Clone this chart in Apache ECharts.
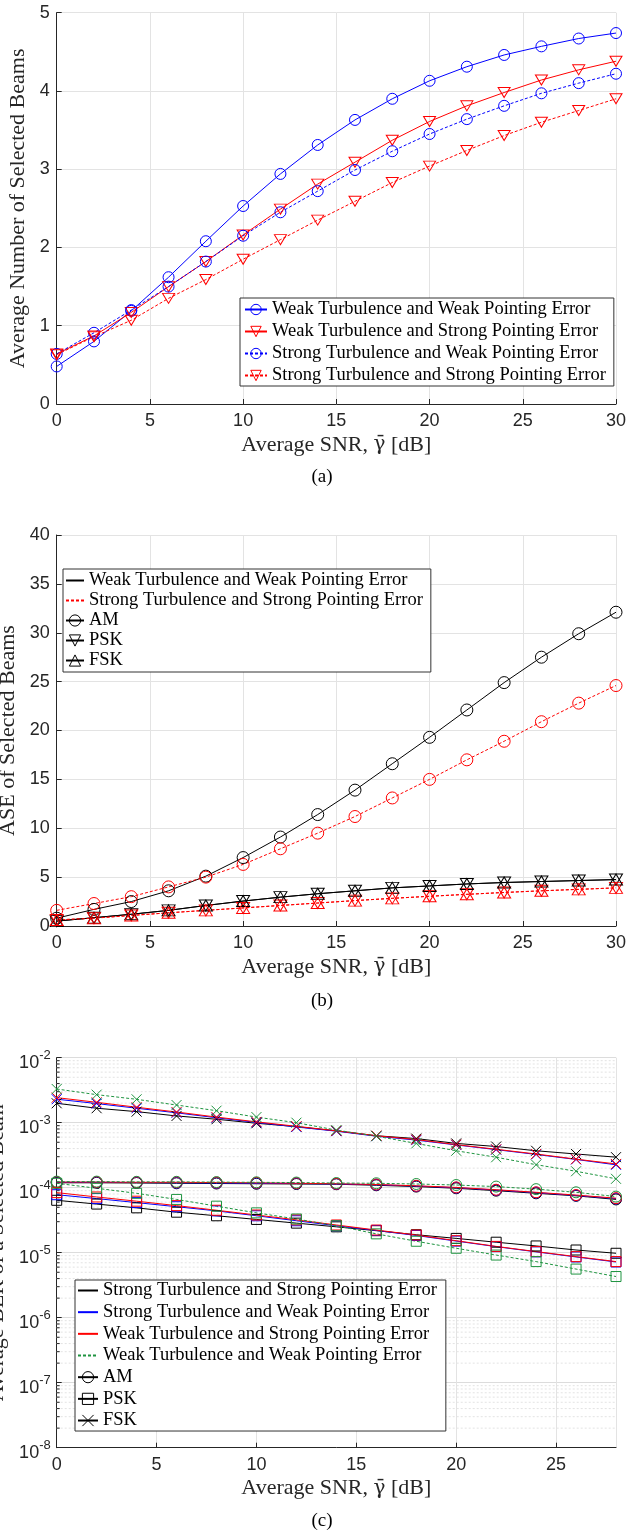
<!DOCTYPE html>
<html>
<head>
<meta charset="utf-8">
<script src="https://cdn.jsdelivr.net/npm/echarts/dist/echarts.min.js"></script>
<style>
  html, body { margin: 0; padding: 0; background: #ffffff; }
  #chart { width: 644px; height: 1531px; }
</style>
</head>
<body>
<div id="chart"></div>
<script>
// ---------- data ----------
// SNR sample points (dB)
const snr30 = [0, 2, 4, 6, 8, 10, 12, 14, 16, 18, 20, 22, 24, 26, 28, 30];
const snr28 = [0, 2, 4, 6, 8, 10, 12, 14, 16, 18, 20, 22, 24, 26, 28];

// (a) average number of selected beams
const beamsWeakWeak     = [0.48, 0.80, 1.19, 1.62, 2.08, 2.53, 2.94, 3.31, 3.63, 3.90, 4.13, 4.31, 4.46, 4.57, 4.67, 4.74];
const beamsWeakStrong   = [0.64, 0.87, 1.17, 1.50, 1.82, 2.16, 2.49, 2.81, 3.09, 3.37, 3.61, 3.81, 3.98, 4.14, 4.27, 4.38];
const beamsStrongWeak   = [0.64, 0.91, 1.20, 1.50, 1.82, 2.15, 2.45, 2.72, 2.99, 3.23, 3.45, 3.64, 3.81, 3.97, 4.10, 4.22];
const beamsStrongStrong = [0.63, 0.86, 1.07, 1.35, 1.59, 1.85, 2.10, 2.35, 2.59, 2.83, 3.04, 3.24, 3.43, 3.60, 3.75, 3.90];

// (b) ASE of selected beams
const aseAmWeakWeak      = [0.8, 1.7, 2.5, 3.6, 5.1, 7.0, 9.1, 11.4, 13.9, 16.6, 19.3, 22.1, 24.9, 27.5, 29.9, 32.1];
const aseAmStrongStrong  = [1.6, 2.3, 3.0, 4.0, 5.0, 6.3, 7.9, 9.5, 11.2, 13.1, 15.0, 17.0, 18.9, 20.9, 22.8, 24.6];
const asePskWeakWeak     = [0.50, 0.85, 1.20, 1.60, 2.10, 2.55, 2.95, 3.30, 3.60, 3.90, 4.10, 4.30, 4.45, 4.55, 4.65, 4.75];
const asePskStrongStrong = [0.62, 0.80, 1.08, 1.35, 1.60, 1.85, 2.10, 2.35, 2.60, 2.83, 3.04, 3.24, 3.43, 3.60, 3.75, 3.90];
const aseFskWeakWeak     = [0.50, 0.85, 1.20, 1.60, 2.10, 2.55, 2.95, 3.30, 3.60, 3.90, 4.10, 4.30, 4.45, 4.55, 4.65, 4.75];
const aseFskStrongStrong = [0.62, 0.80, 1.08, 1.35, 1.60, 1.85, 2.10, 2.35, 2.60, 2.83, 3.04, 3.24, 3.43, 3.60, 3.75, 3.90];

// (c) average BER of a selected beam
const berAmSS  = [1.19e-4, 1.19e-4, 1.18e-4, 1.17e-4, 1.16e-4, 1.15e-4, 1.14e-4, 1.13e-4, 1.09e-4, 1.04e-4, 9.8e-5, 9.0e-5, 8.2e-5, 7.5e-5, 6.6e-5];
const berAmSW  = [1.21e-4, 1.21e-4, 1.20e-4, 1.19e-4, 1.18e-4, 1.17e-4, 1.16e-4, 1.14e-4, 1.11e-4, 1.06e-4, 1.00e-4, 9.2e-5, 8.4e-5, 7.6e-5, 6.8e-5];
const berAmWS  = [1.22e-4, 1.22e-4, 1.21e-4, 1.21e-4, 1.20e-4, 1.19e-4, 1.17e-4, 1.15e-4, 1.12e-4, 1.07e-4, 1.01e-4, 9.3e-5, 8.5e-5, 7.7e-5, 6.9e-5];
const berAmWW  = [1.24e-4, 1.24e-4, 1.23e-4, 1.23e-4, 1.22e-4, 1.21e-4, 1.20e-4, 1.18e-4, 1.17e-4, 1.14e-4, 1.10e-4, 1.04e-4, 9.5e-5, 8.5e-5, 7.3e-5];

const berPskSS = [6.4e-5, 5.6e-5, 4.9e-5, 4.2e-5, 3.7e-5, 3.25e-5, 2.85e-5, 2.5e-5, 2.18e-5, 1.89e-5, 1.66e-5, 1.45e-5, 1.27e-5, 1.10e-5, 9.8e-6];
const berPskSW = [7.8e-5, 6.8e-5, 5.9e-5, 5.1e-5, 4.4e-5, 3.7e-5, 3.1e-5, 2.6e-5, 2.2e-5, 1.84e-5, 1.51e-5, 1.24e-5, 1.03e-5, 8.6e-6, 7.2e-6];
const berPskWS = [8.4e-5, 7.2e-5, 6.2e-5, 5.3e-5, 4.5e-5, 3.8e-5, 3.2e-5, 2.67e-5, 2.23e-5, 1.87e-5, 1.53e-5, 1.25e-5, 1.04e-5, 8.7e-6, 7.3e-6];
const berPskWW = [1.17e-4, 9.8e-5, 8.2e-5, 6.6e-5, 5.2e-5, 4.1e-5, 3.3e-5, 2.6e-5, 1.95e-5, 1.5e-5, 1.17e-5, 9.2e-6, 7.3e-6, 5.6e-6, 4.3e-6];

const berFskSS = [1.99e-3, 1.67e-3, 1.48e-3, 1.27e-3, 1.13e-3, 9.8e-4, 8.7e-4, 7.5e-4, 6.3e-4, 5.7e-4, 4.8e-4, 4.3e-4, 3.7e-4, 3.3e-4, 2.95e-4];
const berFskSW = [2.30e-3, 1.97e-3, 1.67e-3, 1.42e-3, 1.19e-3, 1.01e-3, 8.6e-4, 7.4e-4, 6.2e-4, 5.4e-4, 4.55e-4, 3.85e-4, 3.25e-4, 2.72e-4, 2.25e-4];
const berFskWS = [2.43e-3, 2.06e-3, 1.73e-3, 1.46e-3, 1.22e-3, 1.03e-3, 8.8e-4, 7.5e-4, 6.3e-4, 5.5e-4, 4.6e-4, 3.9e-4, 3.3e-4, 2.75e-4, 2.32e-4];
const berFskWW = [3.30e-3, 2.70e-3, 2.29e-3, 1.87e-3, 1.53e-3, 1.22e-3, 1.00e-3, 7.7e-4, 6.2e-4, 4.8e-4, 3.7e-4, 2.94e-4, 2.26e-4, 1.79e-4, 1.37e-4];

// legend / axis texts
const conditionNames = [
  'Weak Turbulence and Weak Pointing Error',
  'Weak Turbulence and Strong Pointing Error',
  'Strong Turbulence and Weak Pointing Error',
  'Strong Turbulence and Strong Pointing Error'
];
// x title: "Average SNR, γ̄ [dB]" (γ with bar set in a font that places the combining macron)
const xAxisTitle = '{t|Average SNR, }{g|\u03B3\u0304}{t| [dB]}';
const yTitleA = 'Average Number of Selected Beams';
const yTitleB = 'ASE of Selected Beams';
const yTitleC = 'Average BER of a Selected Beam';

// ---------- styling helpers ----------
const SERIF = "'Liberation Serif', 'DejaVu Serif', serif";
const SANS = "'Liberation Sans', Arial, sans-serif";
const AXIS_C = '#262626';
const GRID_C = '#e3e3e3';
const BLUE = '#0000ff', RED = '#ff0000', BLACK = '#000000', GREEN = '#1f9440';
const DOT = [3, 2];

const MARK = {
  circle: { symbol: 'circle', size: 11, rotate: 0 },
  circleB: { symbol: 'circle', size: 12, rotate: 0 },
  down: { symbol: 'triangle', size: [12, 10], rotate: 180 },
  downB: { symbol: 'triangle', size: [13, 11], rotate: 180 },
  up: { symbol: 'triangle', size: [13, 11], rotate: 0 },
  square: { symbol: 'rect', size: 10, rotate: 0 },
  cross: { symbol: 'path://M0,0L10,10M10,0L0,10', size: 10, rotate: 0 }
};

function line(name, idx, xs, ys, color, dash, mark) {
  return {
    type: 'line', name, xAxisIndex: idx, yAxisIndex: idx,
    data: xs.map((x, i) => [x, ys[i]]),
    symbol: mark ? mark.symbol : 'none',
    symbolSize: mark ? mark.size : 0,
    symbolRotate: mark ? mark.rotate : 0,
    showSymbol: !!mark, clip: false, z: 3,
    lineStyle: { color, width: 1, type: dash || 'solid' },
    itemStyle: { color: 'rgba(0,0,0,0)', borderColor: color, borderWidth: 1 },
    emphasis: { disabled: true }
  };
}
// legend-only entry (no data)
function key(name, idx, color, dash, mark) {
  const s = line(name, idx, [], [], color, dash, mark);
  if (!mark) {
    s.symbol = 'circle';
    s.itemStyle = { color: 'rgba(0,0,0,0)', borderColor: 'rgba(0,0,0,0)', borderWidth: 0 };
  }
  return s;
}

const xNameStyle = {
  fontFamily: SERIF, fontSize: 22, color: AXIS_C,
  rich: {
    t: { fontFamily: SERIF, fontSize: 22, color: AXIS_C },
    g: { fontFamily: "'DejaVu Serif', serif", fontSize: 20, color: AXIS_C }
  }
};

function xAxis(idx, max) {
  return {
    type: 'value', gridIndex: idx, min: 0, max, interval: 5,
    axisLine: { show: true, onZero: false, lineStyle: { color: AXIS_C, width: 1 } },
    axisTick: { show: true, inside: true, length: 5, lineStyle: { color: AXIS_C } },
    axisLabel: { show: true, fontFamily: SANS, fontSize: 18, color: AXIS_C, margin: 8,
                 showMaxLabel: max === 30, hideOverlap: false },
    splitLine: { show: true, lineStyle: { color: GRID_C, width: 1 } },
    name: xAxisTitle, nameLocation: 'middle', nameGap: 30,
    nameTextStyle: xNameStyle
  };
}
function yAxis(idx, max, interval, title, gap) {
  return {
    type: 'value', gridIndex: idx, min: 0, max, interval,
    axisLine: { show: true, onZero: false, lineStyle: { color: AXIS_C, width: 1 } },
    axisTick: { show: true, inside: true, length: 5, lineStyle: { color: AXIS_C } },
    axisLabel: { show: true, fontFamily: SANS, fontSize: 18, color: AXIS_C, margin: 7, hideOverlap: false },
    splitLine: { show: true, lineStyle: { color: GRID_C, width: 1 } },
    name: title, nameLocation: 'middle', nameGap: gap,
    nameTextStyle: { fontFamily: SERIF, fontSize: 22, color: AXIS_C }
  };
}

function legendBox(left, top, pad, itemWidth, itemHeight, gap, names) {
  return {
    show: true, orient: 'vertical', left, top, padding: pad,
    itemWidth, itemHeight, itemGap: gap,
    borderColor: '#333333', borderWidth: 1, backgroundColor: '#ffffff',
    itemStyle: { borderWidth: 1 },
    selectedMode: false,
    textStyle: { fontFamily: SERIF, fontSize: 18.5, color: '#000000' },
    formatter: n => n.split('|').pop(),
    data: names
  };
}

// minor gridlines of the logarithmic BER axis (2..9 x 10^k)
const logMinor = [];
for (let e = -8; e < -2; e++) for (let m = 2; m <= 9; m++) logMinor.push([0, m * Math.pow(10, e)]);

const series = [
  // (a)
  line(conditionNames[0], 0, snr30, beamsWeakWeak, BLUE, 'solid', MARK.circle),
  line(conditionNames[1], 0, snr30, beamsWeakStrong, RED, 'solid', MARK.down),
  line(conditionNames[2], 0, snr30, beamsStrongWeak, BLUE, DOT, MARK.circle),
  line(conditionNames[3], 0, snr30, beamsStrongStrong, RED, DOT, MARK.down),

  // (b)
  line('b-am-ww', 1, snr30, aseAmWeakWeak, BLACK, 'solid', MARK.circleB),
  line('b-am-ss', 1, snr30, aseAmStrongStrong, RED, DOT, MARK.circleB),
  line('b-psk-ww', 1, snr30, asePskWeakWeak, BLACK, 'solid', MARK.downB),
  line('b-psk-ss', 1, snr30, asePskStrongStrong, RED, DOT, MARK.downB),
  line('b-fsk-ww', 1, snr30, aseFskWeakWeak, BLACK, 'solid', MARK.up),
  line('b-fsk-ss', 1, snr30, aseFskStrongStrong, RED, DOT, MARK.up),
  key('b|' + conditionNames[0], 1, BLACK, 'solid', null),
  key('b|' + conditionNames[3], 1, RED, DOT, null),
  key('b|AM', 1, BLACK, 'solid', MARK.circleB),
  key('b|PSK', 1, BLACK, 'solid', MARK.downB),
  key('b|FSK', 1, BLACK, 'solid', MARK.up),

  // (c)
  {
    type: 'custom', xAxisIndex: 2, yAxisIndex: 2, silent: true, z: 1,
    data: logMinor, clip: false,
    renderItem(params, api) {
      const v = api.value(1);
      const p0 = api.coord([0, v]);
      const p1 = api.coord([28, v]);
      return {
        type: 'group', children: [
          { type: 'line', shape: { x1: p0[0], y1: p0[1], x2: p1[0], y2: p1[1] },
            style: { stroke: '#e3e3e3', lineWidth: 1, lineDash: [2, 2] } },
          { type: 'line', shape: { x1: p0[0], y1: p0[1], x2: p0[0] + 3, y2: p0[1] },
            style: { stroke: AXIS_C, lineWidth: 1 } }
        ]
      };
    }
  },
  line('c-am-ss', 2, snr28, berAmSS, BLACK, 'solid', MARK.circle),
  line('c-am-sw', 2, snr28, berAmSW, BLUE, 'solid', MARK.circle),
  line('c-am-ws', 2, snr28, berAmWS, RED, 'solid', MARK.circle),
  line('c-am-ww', 2, snr28, berAmWW, GREEN, DOT, MARK.circle),
  line('c-psk-ss', 2, snr28, berPskSS, BLACK, 'solid', MARK.square),
  line('c-psk-sw', 2, snr28, berPskSW, BLUE, 'solid', MARK.square),
  line('c-psk-ws', 2, snr28, berPskWS, RED, 'solid', MARK.square),
  line('c-psk-ww', 2, snr28, berPskWW, GREEN, DOT, MARK.square),
  line('c-fsk-ss', 2, snr28, berFskSS, BLACK, 'solid', MARK.cross),
  line('c-fsk-sw', 2, snr28, berFskSW, BLUE, 'solid', MARK.cross),
  line('c-fsk-ws', 2, snr28, berFskWS, RED, 'solid', MARK.cross),
  line('c-fsk-ww', 2, snr28, berFskWW, GREEN, DOT, MARK.cross),
  key('c|' + conditionNames[3], 2, BLACK, 'solid', null),
  key('c|' + conditionNames[2], 2, BLUE, 'solid', null),
  key('c|' + conditionNames[1], 2, RED, 'solid', null),
  key('c|' + conditionNames[0], 2, GREEN, DOT, null),
  key('c|AM', 2, BLACK, 'solid', MARK.circle),
  key('c|PSK', 2, BLACK, 'solid', MARK.square),
  key('c|FSK', 2, BLACK, 'solid', MARK.cross)
];

const yLog = {
  type: 'log', gridIndex: 2, logBase: 10, min: 1e-8, max: 1e-2, interval: 1, splitNumber: 6,
  axisLine: { show: true, onZero: false, lineStyle: { color: AXIS_C, width: 1 } },
  axisTick: { show: true, inside: true, length: 5, lineStyle: { color: AXIS_C } },
  axisLabel: {
    show: true, margin: 6, hideOverlap: false, color: AXIS_C,
    formatter: v => '{b|10}{s|' + Math.round(Math.log10(v)) + '}',
    rich: {
      b: { fontFamily: SANS, fontSize: 18, color: AXIS_C, lineHeight: 18, padding: [10, 0, 0, 0] },
      s: { fontFamily: SANS, fontSize: 13, color: AXIS_C, lineHeight: 13, padding: [0, 0, 4, 0] }
    }
  },
  splitLine: { show: true, lineStyle: { color: '#dcdcdc', width: 1 } },
  name: yTitleC, nameLocation: 'middle', nameGap: 44,
  nameTextStyle: { fontFamily: SERIF, fontSize: 22, color: AXIS_C }
};

const option = {
  animation: false,
  backgroundColor: '#ffffff',
  grid: [
    { left: 56.7, top: 12.7, width: 559.3, height: 391.3, containLabel: false, outerBoundsMode: 'none' },
    { left: 56.7, top: 535, width: 559.3, height: 391, containLabel: false, outerBoundsMode: 'none' },
    { left: 56.7, top: 1057.7, width: 559.3, height: 390, containLabel: false, outerBoundsMode: 'none' }
  ],
  xAxis: [xAxis(0, 30), xAxis(1, 30), xAxis(2, 28)],
  yAxis: [yAxis(0, 5, 1, yTitleA, 18), yAxis(1, 40, 5, yTitleB, 26), yLog],
  legend: [
    legendBox(240, 298, [2, 8, 1, 4], 22, 13, 3, conditionNames),
    legendBox(63, 569, [2, 8, 2, 2], 18, 14, 1,
      ['b|' + conditionNames[0], 'b|' + conditionNames[3], 'b|AM', 'b|PSK', 'b|FSK']),
    legendBox(75, 1280, [1, 9, 1, 2], 20, 14, 2.67,
      ['c|' + conditionNames[3], 'c|' + conditionNames[2], 'c|' + conditionNames[1], 'c|' + conditionNames[0],
       'c|AM', 'c|PSK', 'c|FSK'])
  ],
  graphic: [
    { type: 'text', left: 'center', top: 468, style: { text: '(a)', font: "19px 'Liberation Serif', serif", fill: '#000' } },
    { type: 'text', left: 'center', top: 992, style: { text: '(b)', font: "19px 'Liberation Serif', serif", fill: '#000' } },
    { type: 'text', left: 'center', top: 1512, style: { text: '(c)', font: "19px 'Liberation Serif', serif", fill: '#000' } }
  ],
  series
};

const chart = echarts.init(document.getElementById('chart'), null, { renderer: 'canvas' });
chart.setOption(option);
</script>
</body>
</html>
